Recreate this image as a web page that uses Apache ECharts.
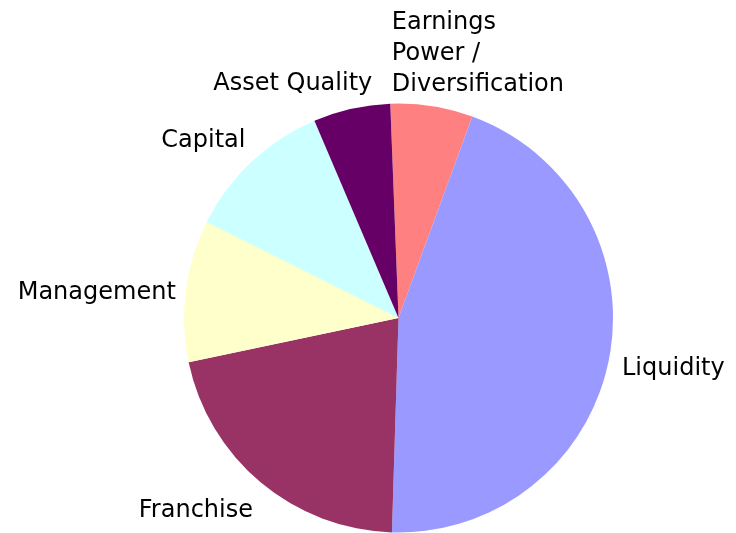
<!DOCTYPE html>
<html>
<head>
<meta charset="utf-8">
<script src="https://cdn.jsdelivr.net/npm/echarts@6/dist/echarts.min.js"></script>
<style>
  html, body { margin: 0; padding: 0; background: #fff; }
  #chart { width: 736px; height: 533px; }
</style>
</head>
<body>
<div id="chart"></div>
<script>
// slices in clockwise order, starting just left of 12 o'clock
const categories = ['Earnings\nPower /\nDiversification', 'Liquidity', 'Franchise', 'Management', 'Capital', 'Asset Quality'];
const values = [6.2, 44.9, 21.2, 10.7, 11.2, 5.8];
const colors = ['#FF8080', '#9999FF', '#993366', '#FFFFCC', '#CCFFFF', '#660066'];
// nudges so the labels sit where the original put them
const labelOffsets = [[-46, -46], [2, 9], [1, 24], [1, 3], [3, -17], [27, -19]];

let data = [];
for (let i = 0; i < categories.length; i++) {
  data.push({
    name: categories[i],
    value: values[i],
    itemStyle: { color: colors[i] },
    label: { offset: labelOffsets[i] }
  });
}

let option = {
  animation: false,
  series: [
    {
      type: 'pie',
      center: [398.5, 318],
      radius: 214.5,
      startAngle: 92.2,
      clockwise: true,
      avoidLabelOverlap: false,
      label: {
        show: true,
        position: 'outside',
        formatter: '{b}',
        color: '#000',
        fontFamily: 'DejaVu Sans',
        fontSize: 24,
        lineHeight: 31
      },
      labelLine: { show: false, length: 6, length2: 0 },
      emphasis: { disabled: true },
      data: data
    }
  ]
};

let myChart = echarts.init(document.getElementById('chart'));
myChart.setOption(option);
</script>
</body>
</html>
